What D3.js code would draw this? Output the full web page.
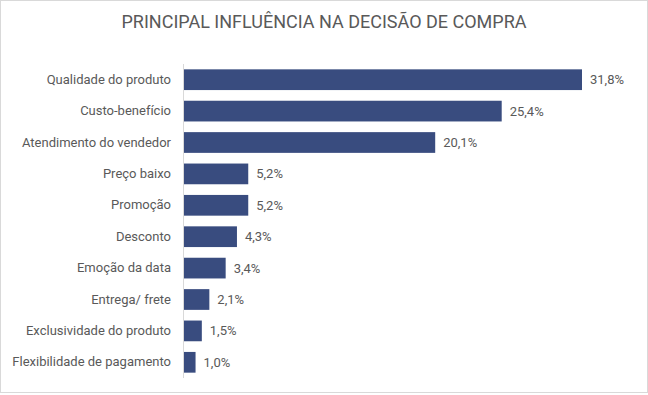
<!DOCTYPE html>
<html>
<head>
<meta charset="utf-8">
<script src="https://cdn.jsdelivr.net/npm/d3@7"></script>
<style>
  body { margin: 0; background: #fff; }
  svg { display: block; font-family: Roboto, "Open Sans", sans-serif; }
</style>
</head>
<body>
<div id="container"></div>
<script>
const categories = ['Qualidade do produto', 'Custo-benefício', 'Atendimento do vendedor', 'Preço baixo',
  'Promoção', 'Desconto', 'Emoção da data', 'Entrega/ frete', 'Exclusividade do produto', 'Flexibilidade de pagamento']
const values = [31.8, 25.4, 20.1, 5.2, 5.2, 4.3, 3.4, 2.1, 1.5, 1.0]
const title = 'PRINCIPAL INFLUÊNCIA NA DECISÃO DE COMPRA'

const width = 648
const height = 395
const barColor = '#394c7f'
const textColor = '#595959'

const svg = d3.select('#container')
  .append('svg')
  .attr('width', width)
  .attr('height', height)

svg.append('rect')
  .attr('x', 0.5).attr('y', 0.5)
  .attr('width', width - 1).attr('height', height - 3)
  .attr('fill', '#fff')
  .attr('stroke', '#d9d9d9')

svg.append('text')
  .attr('x', 324)
  .attr('y', 28)
  .attr('text-anchor', 'middle')
  .attr('fill', textColor)
  .style('font-size', '18px')
  .text(title)

let x = d3.scaleLinear().domain([0, 31.8]).range([183, 582])
let y = d3.scaleBand().domain(categories).range([64, 378]).paddingInner(0.34).paddingOuter(0.17)

svg.append('g')
  .selectAll('rect')
  .data(values)
  .enter().append('rect')
  .attr('x', x(0))
  .attr('y', (d, i) => y(categories[i]))
  .attr('width', d => x(d) - x(0))
  .attr('height', y.bandwidth())
  .attr('fill', barColor)

svg.append('g')
  .selectAll('text')
  .data(values)
  .enter().append('text')
  .attr('x', d => x(d) + 8)
  .attr('y', (d, i) => y(categories[i]) + y.bandwidth() / 2)
  .attr('dy', '0.35em')
  .attr('fill', textColor)
  .style('font-size', '13px')
  .text(d => d.toFixed(1).replace('.', ',') + '%')

let yAxis = d3.axisLeft(y).tickSize(0).tickPadding(12)
let axisG = svg.append('g')
  .attr('transform', `translate(${x(0)},0)`)
  .call(yAxis)
axisG.select('.domain').attr('stroke', '#d9d9d9').attr('d', 'M0.5,64V378')
axisG.selectAll('text')
  .attr('fill', textColor)
  .style('font-size', '13px')
  .style('font-family', 'Roboto, "Open Sans", sans-serif')
</script>
</body>
</html>
